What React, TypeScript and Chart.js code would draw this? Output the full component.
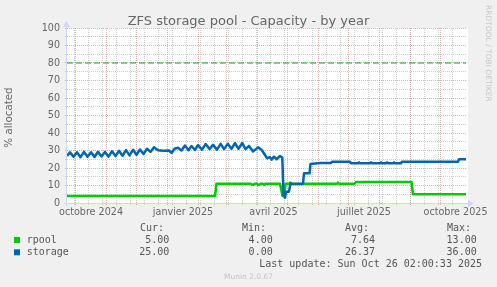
import React, { useEffect, useRef } from 'react';
import { Chart, registerables } from 'chart.js';

Chart.register(...registerables);

// ---------- texts ----------
const TITLE = 'ZFS storage pool - Capacity - by year';
const Y_TITLE = '% allocated';
const SIDE_TEXT = 'RRDTOOL / TOBI OETIKER';
const FOOTER = 'Munin 2.0.67';
const LAST_UPDATE = 'Last update: Sun Oct 26 02:00:33 2025';

// ---------- x axis (days since 1 Oct 2024) ----------
const xMinDay = -8;
const xMaxDay = 391;
const monthStartDays = [0, 31, 61, 92, 123, 151, 182, 212, 243, 273, 304, 335, 365];
const biweeklyMondayDays = [-1, 13, 27, 41, 55, 69, 83, 97, 111, 125, 139, 153, 167, 181, 195, 209, 223, 237, 251, 265, 279, 293, 307, 321, 335, 349, 363, 377];
const monthLabelDays = [16, 108, 198.5, 289, 380.5];
const monthLabels = ['octobre 2024', 'janvier 2025', 'avril 2025', 'juillet 2025', 'octobre 2025'];

// ---------- y axis ----------
const yTickValues = [0, 5, 10, 15, 20, 25, 30, 35, 40, 45, 50, 55, 60, 65, 70, 75, 80, 85, 90, 95, 100];

// ---------- series ----------
const rpoolDays = [-8, 140, 141.5, 176, 177, 178.5, 179.5, 182, 183, 184.5, 185.5, 188, 189, 190, 205, 207.5, 209, 210.5, 262, 263, 264, 279.5, 281, 336.5, 338, 391];
const rpoolValues = [4, 4, 11, 11, 10.4, 10.4, 11, 11, 10.4, 10.4, 11, 11, 10.4, 11, 11, 4, 4, 11, 11, 11.6, 11, 11, 12, 12, 5, 5];

const storageDays = [
  -8, -5, -1.5, 2, 5.5, 9, 12.5, 16, 19.5, 23, 26.5, 30, 33.5, 37, 40.5, 44, 47.5, 51, 54.5, 58, 61.5, 65, 68.5, 72, 75.5,
  79, 83, 88, 94, 96.5, 99.5,
  103, 106.5, 110, 113.5, 116.5, 120, 123, 127, 130.7, 134.5, 138, 142, 145.7, 149, 152.7, 156.5, 160, 163.5, 167.3, 170.5,
  174, 178, 183, 186.7, 190, 192, 195, 196.7, 199, 201.7, 205, 207.3,
  208.5, 210, 211, 214, 215.5, 216.5, 228, 229, 234.5, 235.5, 245, 256, 257, 275, 276, 283, 284, 285, 295, 296, 297,
  305, 306, 307, 311, 312, 313, 318, 319, 320, 326, 327, 383, 384, 391,
];
const storageValues = [
  26.8, 29.0, 26.4, 29.0, 26.2, 29.2, 26.4, 29.0, 26.3, 29.3, 26.6, 29.2, 26.5, 29.6, 26.8, 29.8, 27.0, 30.2, 27.2, 30.4, 27.6, 30.6, 28.0, 31.0, 29.2,
  31.8, 30.2, 29.9, 30.0, 28.6, 31.0,
  31.6, 30.0, 32.8, 30.2, 32.6, 30.3, 33.1, 30.5, 33.7, 30.8, 33.2, 30.5, 33.8, 30.8, 33.8, 31.0, 34.2, 31.0, 34.3, 30.8,
  32.6, 29.4, 31.8, 30.3, 27.4, 25.6, 26.2, 24.8, 26.5, 25.0, 26.9, 26.0,
  4.5, 3.0, 6.5, 6.5, 11.6, 10.9, 10.9, 17.0, 17.0, 22.3, 22.9, 22.9, 23.6, 23.6, 22.7, 22.7, 23.2, 22.7, 22.7, 23.2, 22.7,
  22.7, 23.2, 22.7, 22.7, 23.2, 22.7, 22.7, 23.2, 22.7, 22.7, 23.6, 23.6, 25.0, 25.0,
];

const warningDays = [-8, 391];
const warningValues = [80, 80];

// ---------- legend ----------
const legendNames = ['rpool', 'storage'];
const legendCur = ['5.00', '25.00'];
const legendMin = ['4.00', '0.00'];
const legendAvg = ['7.64', '26.37'];
const legendMax = ['13.00', '36.00'];
const legendHeaders = ['Cur:', 'Min:', 'Avg:', 'Max:'];

// ---------- styles ----------
const GREEN = '#00CC00';
const BLUE = '#0066B3';
const WARN = '#00B000';
const AXIS = '#CFD6F8';
const MAJOR = 'rgba(225,110,110,0.55)';
const MINOR = 'rgba(150,150,150,0.45)';
const FONT_COLOR = '#666666';
const LEGEND_COLOR = '#555555';
const SANS = '"DejaVu Sans", sans-serif';
const MONO = '"DejaVu Sans Mono", monospace';

const toPoints = (xs: number[], ys: number[]) => xs.map((x, i) => ({ x, y: ys[i] }));

const xTicks = [
  ...monthStartDays.map((d) => ({ value: d, kind: 'major' })),
  ...biweeklyMondayDays.map((d) => ({ value: d, kind: 'minor' })),
  ...monthLabelDays.map((d, i) => ({ value: d, kind: 'label', text: monthLabels[i] })),
].sort((a, b) => a.value - b.value);

const xGridColor = (ctx: any) => {
  const t = ctx.tick;
  if (!t) return 'rgba(0,0,0,0)';
  if (t.kind === 'major') return MAJOR;
  if (t.kind === 'minor') return MINOR;
  return 'rgba(0,0,0,0)';
};
const yGridColor = (ctx: any) => {
  const t = ctx.tick;
  if (!t) return 'rgba(0,0,0,0)';
  return t.value % 10 === 0 ? MAJOR : MINOR;
};

const muninPlugin = {
  id: 'muninDecor',
  beforeDraw(chart: any) {
    const { ctx, chartArea: a } = chart;
    ctx.save();
    ctx.fillStyle = '#F0F0F0';
    ctx.fillRect(0, 0, chart.width, chart.height);
    ctx.fillStyle = '#FFFFFF';
    ctx.fillRect(a.left, a.top, a.right - a.left + 2, a.bottom - a.top);
    ctx.restore();
  },
  beforeDatasetsDraw(chart: any) {
    const { ctx, chartArea: a } = chart;
    ctx.save();
    ctx.strokeStyle = AXIS;
    ctx.fillStyle = AXIS;
    ctx.lineWidth = 1;
    ctx.beginPath();
    ctx.moveTo(a.left - 3, a.bottom + 0.5);
    ctx.lineTo(a.right + 4, a.bottom + 0.5);
    ctx.moveTo(a.left - 0.5, a.bottom + 3);
    ctx.lineTo(a.left - 0.5, a.top - 3);
    ctx.stroke();
    ctx.beginPath();
    ctx.moveTo(a.right + 2, a.bottom - 3);
    ctx.lineTo(a.right + 8, a.bottom + 0.5);
    ctx.lineTo(a.right + 2, a.bottom + 4);
    ctx.closePath();
    ctx.fill();
    ctx.beginPath();
    ctx.moveTo(a.left - 4, a.top - 1);
    ctx.lineTo(a.left - 0.5, a.top - 7);
    ctx.lineTo(a.left + 3, a.top - 1);
    ctx.closePath();
    ctx.fill();
    ctx.restore();
  },
  afterDraw(chart: any) {
    const { ctx, chartArea: a } = chart;
    ctx.save();
    // title
    ctx.fillStyle = FONT_COLOR;
    ctx.font = `13px ${SANS}`;
    ctx.textAlign = 'center';
    ctx.textBaseline = 'alphabetic';
    ctx.fillText(TITLE, chart.width / 2, 25);
    // y title
    ctx.save();
    ctx.translate(9.5, (a.top + a.bottom) / 2 + 2);
    ctx.rotate(-Math.PI / 2);
    ctx.font = `10.3px ${SANS}`;
    ctx.textAlign = 'center';
    ctx.textBaseline = 'middle';
    ctx.fillText(Y_TITLE, 0, 0);
    ctx.restore();
    // side text
    ctx.save();
    ctx.translate(487.5, 5);
    ctx.rotate(Math.PI / 2);
    ctx.font = `7.5px ${SANS}`;
    ctx.fillStyle = '#C8C8C8';
    ctx.textAlign = 'left';
    ctx.textBaseline = 'middle';
    ctx.fillText(SIDE_TEXT, 0, 0);
    ctx.restore();
    // legend
    ctx.font = `10px ${MONO}`;
    ctx.fillStyle = LEGEND_COLOR;
    ctx.textBaseline = 'alphabetic';
    ctx.textAlign = 'left';
    const headerX = [140, 242, 345, 447];
    legendHeaders.forEach((h, i) => ctx.fillText(h, headerX[i], 231));
    const colRight = [169.3, 272.7, 375, 476.7];
    const rowBase = [243, 255.3];
    const colors = [GREEN, BLUE];
    legendNames.forEach((name, r) => {
      ctx.fillStyle = colors[r];
      ctx.fillRect(14, rowBase[r] - 6, 6, 6);
      ctx.fillStyle = LEGEND_COLOR;
      ctx.textAlign = 'left';
      ctx.fillText(name, 26.7, rowBase[r]);
      ctx.textAlign = 'right';
      const vals = [legendCur[r], legendMin[r], legendAvg[r], legendMax[r]];
      vals.forEach((v, c) => ctx.fillText(v, colRight[c], rowBase[r]));
    });
    ctx.textAlign = 'right';
    ctx.fillText(LAST_UPDATE, 482, 266.7);
    // footer
    ctx.font = `7.5px ${SANS}`;
    ctx.fillStyle = '#C4C4C4';
    ctx.textAlign = 'center';
    ctx.fillText(FOOTER, chart.width / 2, 279);
    ctx.restore();
  },
};

export default function App() {
  const ref = useRef<HTMLCanvasElement>(null);
  useEffect(() => {
    document.body.style.margin = '0';
    const canvas = ref.current;
    if (!canvas) return;
    const chart = new Chart(canvas, {
      type: 'line',
      data: {
        datasets: [
          {
            label: 'storage',
            data: toPoints(storageDays, storageValues),
            borderColor: BLUE,
            backgroundColor: BLUE,
            borderWidth: 2.5,
            pointRadius: 0,
            tension: 0,
            borderJoinStyle: 'round',
            order: 0,
          },
          {
            label: 'rpool',
            data: toPoints(rpoolDays, rpoolValues),
            borderColor: GREEN,
            backgroundColor: GREEN,
            borderWidth: 2.5,
            pointRadius: 0,
            tension: 0,
            borderJoinStyle: 'round',
            order: 1,
          },
          {
            label: 'warning',
            data: toPoints(warningDays, warningValues),
            borderColor: WARN,
            borderWidth: 1,
            borderDash: [6, 3],
            pointRadius: 0,
            tension: 0,
            order: 2,
          },
        ],
      } as any,
      options: {
        animation: false,
        responsive: false,
        devicePixelRatio: 1,
        layout: { padding: { left: 0, right: 31, top: 28, bottom: 64 } },
        plugins: { legend: { display: false }, tooltip: { enabled: false }, title: { display: false } },
        scales: {
          x: {
            type: 'linear',
            min: xMinDay,
            max: xMaxDay,
            afterBuildTicks: (scale: any) => {
              scale.ticks = xTicks.map((t) => ({ ...t }));
            },
            afterFit: (scale: any) => {
              scale.height = 20;
            },
            grid: {
              color: xGridColor,
              tickColor: xGridColor,
              lineWidth: 1,
              tickLength: 2,
              drawTicks: true,
            },
            border: { display: false, dash: [1, 1] },
            ticks: {
              autoSkip: false,
              maxRotation: 0,
              minRotation: 0,
              padding: 2,
              color: FONT_COLOR,
              font: { family: SANS, size: 9.6 },
              callback: (_v: any, i: number, ticks: any[]) => (ticks[i] && ticks[i].kind === 'label' ? ticks[i].text : ''),
            },
          },
          y: {
            type: 'linear',
            min: 0,
            max: 100,
            afterBuildTicks: (scale: any) => {
              scale.ticks = yTickValues.map((v) => ({ value: v }));
            },
            afterFit: (scale: any) => {
              scale.width = 67;
            },
            grid: {
              color: yGridColor,
              tickColor: yGridColor,
              lineWidth: 1,
              tickLength: 2,
              drawTicks: true,
            },
            border: { display: false, dash: [1, 1] },
            ticks: {
              autoSkip: false,
              padding: 5,
              color: FONT_COLOR,
              font: { family: SANS, size: 9.6 },
              callback: (v: any) => (Number(v) % 10 === 0 ? String(v) : ''),
            },
          },
        },
      } as any,
      plugins: [muninPlugin],
    });
    return () => chart.destroy();
  }, []);
  return <canvas ref={ref} width={497} height={287} style={{ display: 'block' }} />;
}
